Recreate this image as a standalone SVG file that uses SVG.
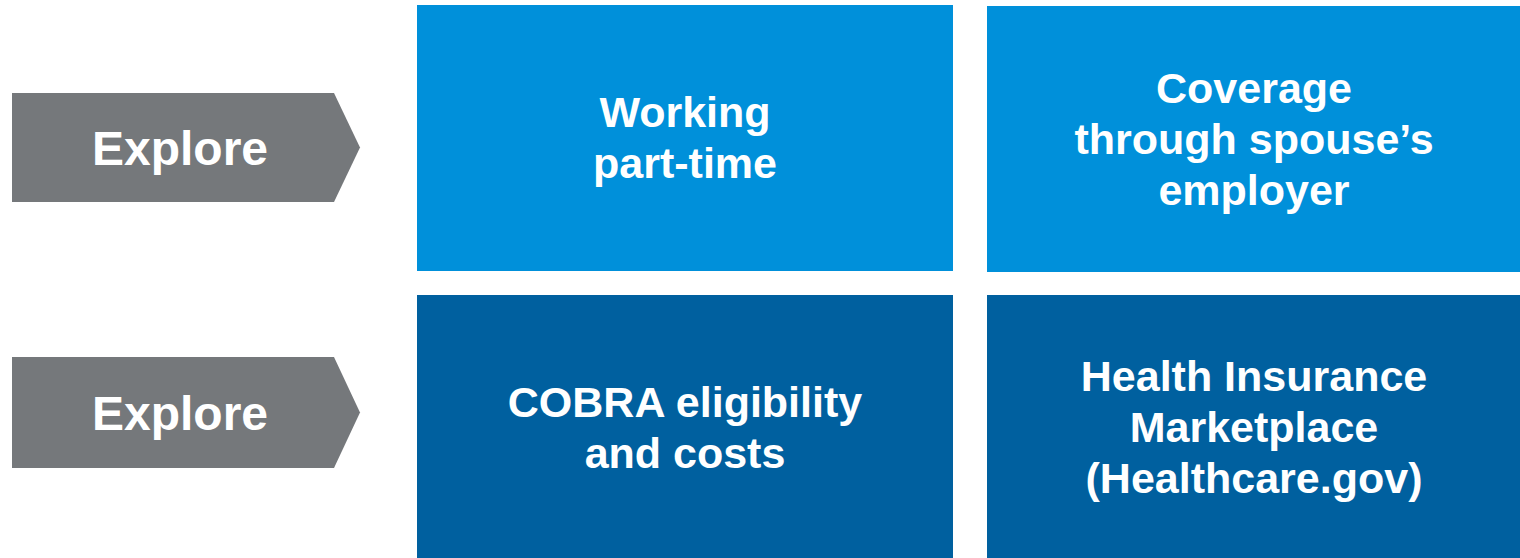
<svg xmlns="http://www.w3.org/2000/svg" width="1520" height="558" viewBox="0 0 1520 558">
  <style>
    .chev { fill: #75787B; }
    .light { fill: #0090DA; }
    .dark { fill: #00609F; }
    text { font-family: "Liberation Sans", Arial, sans-serif; font-weight: bold; fill: #FFFFFF; text-anchor: middle; }
    .lbl { font-size: 48px; }
    .box { font-size: 43px; }
  </style>
  <rect width="1520" height="558" fill="#FFFFFF"/>

  <!-- row 1 -->
  <g id="explore-1">
    <polygon class="chev" points="12,93 334,93 360,147.5 334,202 12,202"/>
    <text class="lbl" x="180" y="164.5">Explore</text>
  </g>
  <g id="working-part-time">
    <rect class="light" x="417" y="5" width="536" height="266"/>
    <text class="box" x="685" y="127">Working</text>
    <text class="box" x="685" y="178">part-time</text>
  </g>
  <g id="spouse-coverage">
    <rect class="light" x="987" y="6" width="533" height="266"/>
    <text class="box" x="1254" y="103">Coverage</text>
    <text class="box" x="1254" y="154">through spouse’s</text>
    <text class="box" x="1254" y="205">employer</text>
  </g>

  <!-- row 2 -->
  <g id="explore-2">
    <polygon class="chev" points="12,357 334,357 360,412.5 334,468 12,468"/>
    <text class="lbl" x="180" y="429.5">Explore</text>
  </g>
  <g id="cobra">
    <rect class="dark" x="417" y="295" width="536" height="263"/>
    <text class="box" x="685" y="417">COBRA eligibility</text>
    <text class="box" x="685" y="468">and costs</text>
  </g>
  <g id="marketplace">
    <rect class="dark" x="987" y="295" width="533" height="263"/>
    <text class="box" x="1254" y="391">Health Insurance</text>
    <text class="box" x="1254" y="442">Marketplace</text>
    <text class="box" x="1254" y="493">(Healthcare.gov)</text>
  </g>

  <g id="connectors"/>
</svg>
